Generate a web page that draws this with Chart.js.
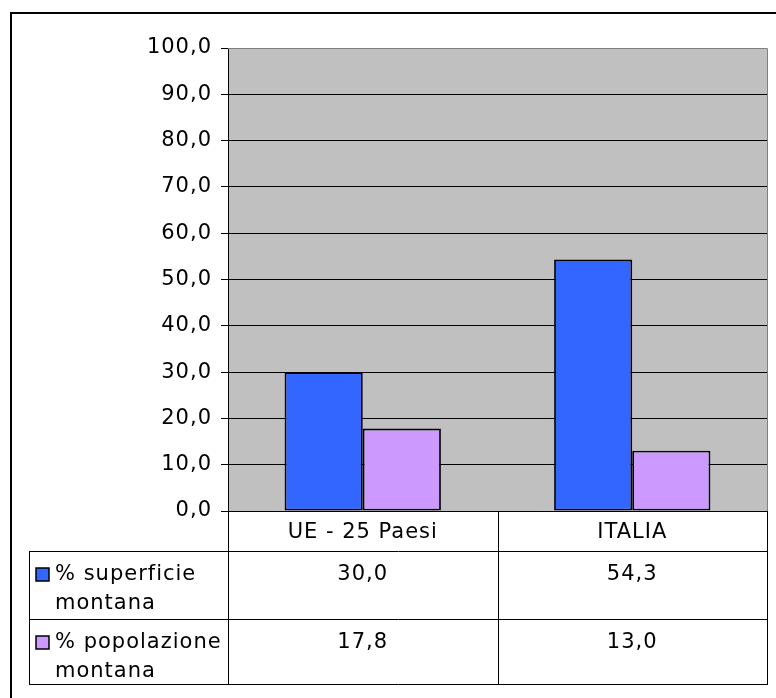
<!DOCTYPE html>
<html>
<head>
<meta charset="utf-8">
<script src="https://cdn.jsdelivr.net/npm/chart.js@4/dist/chart.umd.min.js"></script>
<style>
  html, body { margin: 0; padding: 0; background: #fff; }
  #wrap { width: 776px; height: 698px; }
</style>
</head>
<body>
<div id="wrap"><canvas id="chart" width="776" height="698"></canvas></div>
<script>
// dati
const categories = ['UE - 25 Paesi', 'ITALIA'];
const superficie = [30.0, 54.3];
const popolazione = [17.8, 13.0];
const seriesNames = ['% superficie montana', '% popolazione montana'];
const seriesColors = ['#3366FF', '#CC99FF'];
const yTicks = [0, 10, 20, 30, 40, 50, 60, 70, 80, 90, 100];

const FONT = '"DejaVu Sans", Verdana, sans-serif';
const FSIZE = 21;
const fmt = v => v.toFixed(1).replace('.', ',');

// righe della tabella dati sotto il grafico
const tableLeft = 29;
const rowBottoms = [551, 619, 684];

const tablePlugin = {
    id: 'tablePlugin',
    beforeInit(chart) {
        chart.ctx.letterSpacing = '1px';
    },
    beforeDraw(chart) {
        const ca = chart.chartArea;
        const ctx = chart.ctx;
        ctx.letterSpacing = '1px';
        ctx.save();
        ctx.fillStyle = '#C0C0C0';
        ctx.fillRect(ca.left, ca.top, ca.right - ca.left, ca.bottom - ca.top);
        ctx.restore();
    },
    afterDraw(chart) {
        const ca = chart.chartArea;
        const ctx = chart.ctx;
        const xs = chart.scales.x;
        ctx.save();

        // bordo grigio dell'area del tracciato
        ctx.strokeStyle = '#808080';
        ctx.lineWidth = 1;
        ctx.beginPath();
        ctx.moveTo(ca.left, ca.top + 0.5);
        ctx.lineTo(ca.right + 0.5, ca.top + 0.5);
        ctx.lineTo(ca.right + 0.5, ca.bottom);
        ctx.stroke();

        // griglia della tabella
        const mid = (xs.getPixelForValue(0) + xs.getPixelForValue(1)) / 2;
        ctx.strokeStyle = '#000';
        ctx.beginPath();
        rowBottoms.forEach(y => {
            ctx.moveTo(tableLeft, y + 0.5);
            ctx.lineTo(ca.right + 1, y + 0.5);
        });
        ctx.moveTo(tableLeft + 0.5, rowBottoms[0]);
        ctx.lineTo(tableLeft + 0.5, rowBottoms[2] + 1);
        ctx.moveTo(ca.left + 0.5, ca.bottom);
        ctx.lineTo(ca.left + 0.5, rowBottoms[2] + 1);
        ctx.moveTo(Math.round(mid) + 0.5, ca.bottom);
        ctx.lineTo(Math.round(mid) + 0.5, rowBottoms[2] + 1);
        ctx.moveTo(ca.right + 0.5, ca.bottom);
        ctx.lineTo(ca.right + 0.5, rowBottoms[2] + 1);
        ctx.stroke();

        // righe delle serie
        ctx.font = FSIZE + 'px ' + FONT;
        ctx.fillStyle = '#000';
        ctx.textBaseline = 'middle';
        chart.data.datasets.forEach((ds, i) => {
            const top = rowBottoms[i];
            const y1 = top + 24;
            const y2 = top + 53;
            // chiave della legenda
            ctx.fillStyle = ds.backgroundColor;
            ctx.fillRect(36, y1 - 7, 13, 13);
            ctx.strokeStyle = '#000';
            ctx.lineWidth = 1.5;
            ctx.strokeRect(36, y1 - 7, 13, 13);
            // nome su due righe
            const name = ds.label;
            const cut = name.lastIndexOf(' ');
            ctx.fillStyle = '#000';
            ctx.textAlign = 'left';
            ctx.fillText(name.slice(0, cut), 55, y1);
            ctx.fillText(name.slice(cut + 1), 55, y2);
            // valori
            ctx.textAlign = 'center';
            ds.data.forEach((v, j) => {
                ctx.fillText(fmt(v), xs.getPixelForValue(j), y1);
            });
        });

        // cornice esterna
        ctx.strokeStyle = '#000';
        ctx.lineWidth = 2;
        ctx.beginPath();
        ctx.moveTo(11, 698);
        ctx.lineTo(11, 13);
        ctx.lineTo(776, 13);
        ctx.stroke();
        ctx.restore();
    }
};

new Chart(document.getElementById('chart').getContext('2d'), {
    type: 'bar',
    data: {
        labels: categories,
        datasets: [
            { label: seriesNames[0], data: superficie, backgroundColor: seriesColors[0] },
            { label: seriesNames[1], data: popolazione, backgroundColor: seriesColors[1] }
        ]
    },
    options: {
        responsive: false,
        animation: false,
        layout: { padding: { left: 0, right: 9, top: 48, bottom: 0 } },
        datasets: {
            bar: {
                borderColor: '#000',
                borderWidth: 1.8,
                borderSkipped: false,
                categoryPercentage: 0.58,
                barPercentage: 1.0
            }
        },
        plugins: {
            legend: { display: false },
            tooltip: { enabled: false }
        },
        scales: {
            x: {
                grid: { display: false, drawTicks: false },
                border: { display: false },
                ticks: { color: '#000', padding: 9, font: { family: FONT, size: FSIZE } },
                afterFit: s => { s.height = 187; }
            },
            y: {
                min: 0,
                max: 100,
                afterBuildTicks: s => { s.ticks = yTicks.map(v => ({ value: v })); },
                afterFit: s => { s.width = 228; },
                grid: {
                    color: c => (c.tick && c.tick.value === 100) ? '#808080' : '#000',
                    tickColor: '#000',
                    tickLength: 7,
                    lineWidth: 1
                },
                border: { display: true, color: '#000', width: 1 },
                ticks: {
                    color: '#000',
                    padding: 9,
                    font: { family: FONT, size: FSIZE },
                    callback: v => fmt(v)
                }
            }
        }
    },
    plugins: [tablePlugin]
});
</script>
</body>
</html>
